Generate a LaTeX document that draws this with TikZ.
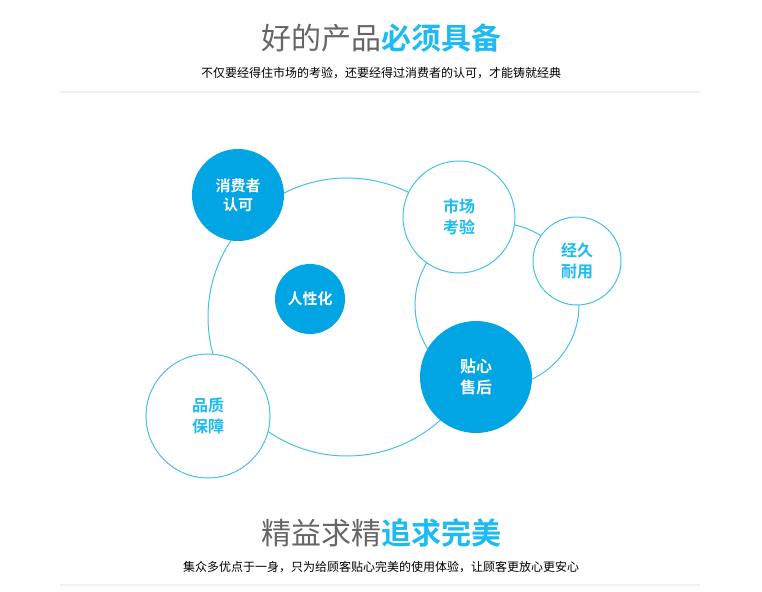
\documentclass[tikz,border=0pt]{standalone}
\usepackage{fontspec}
\setmainfont{Noto Sans CJK SC}
\newfontfamily\cjkbold[BoldFont={Noto Sans CJK SC Bold}]{Noto Sans CJK SC Bold}
\definecolor{bubblefill}{HTML}{02A5E4}
\definecolor{ringline}{HTML}{45C0EE}
\definecolor{headcyan}{HTML}{1DBBF1}
\definecolor{headgray}{HTML}{666666}
\begin{document}
\begin{tikzpicture}[x=1pt, y=-1pt, every node/.style={align=center, inner sep=0pt},
    ring/.style={circle, draw=ringline, line width=1pt, fill=white},
    bubble/.style={circle, fill=bubblefill, text=white, font=\cjkbold\fontsize{15}{19}\selectfont},
    lightbubble/.style={ring, text=headcyan, font=\cjkbold\fontsize{16}{21}\selectfont}]
  \useasboundingbox (0,0) rectangle (762,591);
  % header
  \node (title) at (381,38) {\fontsize{30}{34}\selectfont\textcolor{headgray}{好的产品}\textcolor{headcyan}{\cjkbold 必须具备}};
  \node (subtitle) at (381,73) {\fontsize{12}{14}\selectfont 不仅要经得住市场的考验，还要经得过消费者的认可，才能铸就经典};
  \draw[black!6, line width=1.5pt] (60,92) -- (700,92);
  % rings
  \node (bigring) [ring, minimum size=278pt] at (347,317) {};
  \node (rightring) [ring, minimum size=164pt] at (497,305) {};
  % bubbles
  \node (consumer) [bubble, minimum size=92pt] at (238,195) {消费者\\认可};
  \node (market) [lightbubble, minimum size=112pt] at (459,217) {市场\\考验};
  \node (durable) [lightbubble, minimum size=88pt] at (577,261) {经久\\耐用};
  \node (human) [bubble, minimum size=70pt] at (310,299) {人性化};
  \node (service) [bubble, minimum size=112pt, font=\cjkbold\fontsize{16}{21}\selectfont] at (476,377) {贴心\\售后};
  \node (quality) [lightbubble, minimum size=124pt] at (208,416) {品质\\保障};
  % footer
  \node (motto) at (381,533) {\fontsize{30}{34}\selectfont\textcolor{headgray}{精益求精}\textcolor{headcyan}{\cjkbold 追求完美}};
  \node (mottotext) at (381,567) {\fontsize{12}{14}\selectfont 集众多优点于一身，只为给顾客贴心完美的使用体验，让顾客更放心更安心};
  \draw[black!6, line width=1.5pt] (60,585) -- (700,585);
\end{tikzpicture}
\end{document}
